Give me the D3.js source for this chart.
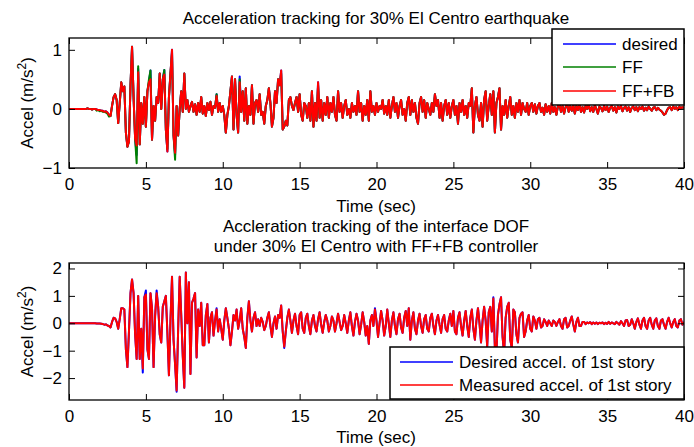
<!DOCTYPE html>
<html>
<head>
<meta charset="utf-8">
<script src="https://d3js.org/d3.v7.min.js"></script>
<style>
  body { margin: 0; background: #fff; }
  svg text { font-family: "Liberation Sans", Arial, Helvetica, sans-serif; fill: #000; }
</style>
</head>
<body>
<div id="chart"></div>
<script>
// samples every 0.1 s, 0 .. 40 s
const sampleStep = 0.1;
const timeTicks = [0, 5, 10, 15, 20, 25, 30, 35, 40];
const topTicks = [-1, 0, 1];
const bottomTicks = [-2, -1, 0, 1, 2];

const topTitle = "Acceleration tracking for 30% El Centro earthquake";
const bottomTitle = ["Accleration tracking of the interface DOF", "under 30% El Centro with FF+FB controller"];
const topNames = ["desired", "FF", "FF+FB"];
const bottomNames = ["Desired accel. of 1st story", "Measured accel. of 1st story"];

// top panel, desired acceleration (m/s^2)
const topDesired = [
  0,0,0,0,0,0,0,0,0,0,
  0,0,0.01,0,0,-0.01,0,0,-0.01,-0.02,
  -0.02,-0.03,-0.03,-0.05,-0.04,-0.06,-0.1,-0.12,0.05,0.2,
  0.25,0.15,-0.24,0.1,0.45,0.3,0.38,-0.4,-0.64,-0.55,
  0.4,1.05,0.2,-0.5,-0.78,0.68,-0.6,0.1,-0.25,0.2,
  -0.3,0.3,0.45,0.65,-0.52,0.05,-0.2,0.2,0.1,0.6,
  0,0.5,0.66,-0.35,-0.72,0.2,0.6,1.0,-0.45,-0.78,
  0.05,-0.45,0,0.3,-0.05,0.6,0,0.15,-0.05,0.05,
  0.12,-0.05,0.08,-0.1,0.1,-0.05,0.2,-0.08,0.05,-0.12,
  0.1,-0.02,0.12,-0.1,0.05,0.02,0.25,-0.05,0.1,-0.05,
  0.05,-0.1,-0.4,-0.1,0.05,0.3,0.55,-0.35,0.5,-0.1,
  -0.4,0.55,-0.05,0.3,-0.2,0.35,-0.25,0.05,-0.1,0.4,
  -0.25,0.1,0.15,-0.05,0.25,-0.1,-0.05,-0.25,0.05,0.15,
  0.35,0.1,-0.3,-0.15,0.3,0.1,0.5,0.4,0.65,-0.35,
  -0.3,-0.2,-0.28,0.15,0.2,0.05,-0.02,0.1,0.2,-0.05,
  0.25,-0.1,-0.2,0.1,0.05,-0.15,0.1,-0.2,0.3,-0.3,
  0.1,-0.2,0.45,-0.15,0.15,-0.2,0.1,-0.1,0.2,-0.15,
  0.1,-0.05,0.2,-0.1,-0.2,0.3,-0.05,0.1,-0.15,0.05,
  0.15,-0.1,0,-0.15,0.1,-0.05,0.05,-0.1,0.3,-0.05,
  0.1,-0.2,0.05,-0.1,0.15,-0.2,0.3,-0.05,0.05,-0.1,
  0.1,-0.05,0.05,0,0.15,-0.08,0.05,-0.1,0.15,-0.15,
  0.05,0.2,-0.05,0.1,-0.15,0.05,0.15,-0.1,0,-0.2,
  0.1,0.2,-0.1,0.15,-0.05,0.1,-0.15,-0.25,0.1,0.2,
  -0.05,0.15,-0.15,0.1,0,-0.1,0.1,-0.05,0.25,0.05,
  0.15,-0.15,0.1,-0.2,0.05,0.15,-0.1,0.1,-0.15,0.05,
  0.15,-0.1,0.05,-0.25,0.1,-0.05,0.15,-0.1,0.05,-0.15,
  0.1,0.05,0.35,-0.4,0.05,0.2,-0.1,-0.2,0.1,-0.3,
  0.15,0.3,-0.2,0.05,0.25,-0.1,0.3,-0.4,0.1,0.2,
  0.35,-0.35,0.05,-0.1,0.15,-0.15,0.05,0.2,-0.1,0.05,
  -0.15,0.1,-0.05,0.15,-0.1,0.1,0,-0.05,0.1,-0.1,
  0.05,0.1,-0.05,0.08,-0.08,0.05,0.1,-0.05,0.02,-0.1,
  0.08,-0.05,0.05,-0.08,0.1,-0.05,0.03,-0.1,0.05,0.08,
  -0.05,0.05,-0.08,0.03,0.08,-0.05,0.05,-0.03,0.06,-0.08,
  0.05,-0.02,0.08,-0.05,0.03,-0.06,0.05,0,0.07,-0.04,
  0.03,-0.05,0.06,0,-0.08,0.04,0.02,-0.04,0.05,-0.02,
  0.04,-0.05,0.02,0.05,-0.03,0.03,-0.06,0.04,0,0.05,
  -0.04,0.02,0.04,-0.03,0.03,-0.05,0.02,0.04,-0.02,0.03,
  -0.04,0.03,0,0.04,-0.03,0.02,-0.02,0.04,0,-0.03,
  0.02,0.03,-0.02,0.02,-0.01,-0.03,-0.06,-0.1,-0.08,-0.02,
  0.02,0.03,-0.02,0.04,0,0.03,-0.02,0.04,0.01,0.03,
  0.02
];

// where FF and FF+FB visibly leave the desired trace (time s, value)
const ffTimes  = [1.8, 2.0, 2.2, 2.4, 2.5, 2.6, 4.4, 4.5, 5.2, 6.4, 6.7, 6.9, 11.1, 13.8, 16.2];
const ffValues = [-0.03, -0.04, -0.05, -0.06, -0.08, -0.13, -0.92, 0.72, 0.5, -0.68, 0.95, -0.86, 0.5, 0.6, 0.4];
const fbTimes  = [4.4, 4.5, 5.3, 6.2, 6.9, 9.6, 11.1];
const fbValues = [-0.62, 0.62, 0.5, 0.58, -0.74, 0.22, 0.45];

// bottom panel, desired 1st story acceleration (m/s^2)
const bottomDesired = [
  0,0,0,0,0,0,0,0,0,0,
  0,0,0,0,0,0,0,0,-0.01,-0.01,
  -0.01,-0.02,-0.03,-0.05,-0.04,-0.08,-0.1,-0.15,0.05,0.2,
  0.18,0.05,-0.2,0.15,0.55,0.55,0.5,-0.95,-1.6,-0.3,
  1.1,1.6,1.1,-0.4,-1.3,1.0,-1.3,-0.2,-1.8,0.95,
  1.2,-0.95,-1.3,1.1,0.55,-1.6,0.25,1.2,0.6,-0.4,
  -0.7,0.6,0.8,1.0,-0.35,-1.9,0.1,1.7,-0.6,-1.5,
  -2.5,-0.2,1.7,0.3,-1.2,-2.35,1.85,0,1.5,-1.85,
  0.75,0.9,1.1,-1.25,0.5,-0.1,0.75,-0.8,-0.8,0.3,
  0.7,-0.7,0.2,0.4,-0.45,0.1,0.55,-0.3,0.15,-0.2,
  -0.6,0.1,0.55,0.2,-0.2,-0.8,-0.3,0.3,0.1,0.5,
  -0.2,0.1,0.55,-0.2,-0.5,-0.9,0.2,0.8,0.1,-0.3,
  0.2,0.4,-0.1,0.15,-0.1,0.2,0.05,-0.25,-0.1,0.2,
  0.4,-0.1,-0.5,0,0.25,-0.2,0.3,0.2,0.65,-0.3,
  -0.9,-0.3,0.2,0.5,0.1,-0.35,0.1,0.35,-0.1,-0.4,
  0.3,0.4,-0.2,-0.35,0.2,0.35,-0.1,-0.4,0.1,0.3,
  -0.1,-0.3,0.15,0.4,-0.05,-0.35,0.05,0.3,0.1,-0.3,
  -0.1,0.25,0.1,-0.3,0,0.35,0.05,-0.25,-0.1,0.3,
  0,-0.35,0.1,0.4,-0.1,-0.45,0.05,0.35,0.1,-0.4,
  -0.05,0.4,0.05,-0.45,-0.1,-0.75,0.1,0.3,-0.1,0.55,
  0.1,-0.5,0,0.45,0.1,-0.45,-0.1,0.5,0,-0.5,
  0.1,0.4,-0.1,-0.4,0.15,0.35,-0.15,-0.35,0.2,0.45,
  -0.1,0.55,-0.6,0.1,0.4,-0.2,-0.4,0.1,0.35,-0.1,
  -0.35,0.15,0.3,-0.2,-0.3,0.2,0.35,-0.1,-0.4,0.1,
  0.3,-0.05,-0.35,0.15,0.3,-0.2,-0.3,0.1,0.35,-0.1,
  0.45,-0.3,-0.4,0.2,0.4,-0.1,-0.45,0.1,0.45,-0.1,
  -0.5,0.2,0.5,-0.2,-0.6,0.1,0.55,0,-0.7,0.1,
  0.6,0.1,-0.85,0.4,0.6,-0.3,0.95,-0.9,-1.1,0.3,
  0.7,0.95,-0.5,-1.1,0.2,0.6,0.75,-0.6,-0.9,0.5,
  0.4,-0.4,-0.7,0.2,0.35,0.4,-0.5,-0.3,0.1,0.3,
  -0.2,-0.3,0.25,0.1,-0.2,0.15,0.2,-0.15,-0.1,0.15,
  0.05,-0.1,0.1,0,-0.1,0.1,0.05,-0.1,0.05,0.15,
  -0.1,-0.2,0.15,0.2,-0.15,-0.1,0.1,0.25,-0.05,-0.3,
  0.05,0.2,-0.1,-0.1,0.05,0.05,-0.03,0.03,0,0.04,
  -0.03,0.03,-0.02,0.03,-0.03,0.02,0,0.03,-0.03,0.02,
  -0.02,0.05,-0.02,0.03,0,-0.03,0.05,0,-0.05,0.08,
  0,-0.1,0.1,0.12,-0.1,-0.05,0.15,0,-0.2,0.05,
  0.18,-0.05,-0.2,0.1,0.2,-0.1,-0.2,0.1,0.2,-0.05,
  -0.2,0.1,0.18,-0.1,-0.2,0.1,0.15,-0.05,-0.2,0.05,
  0.2,0,-0.15,0.05,0.15,-0.1,-0.15,0.1,0.15,-0.05,
  0.05
];

// where the measured trace visibly leaves the desired one
const measTimes  = [4.8, 5.0, 5.7, 7.0, 9.6, 14.0, 19.9, 27.6];
const measValues = [-1.65, 1.05, 1.1, -2.45, 0.5, -0.85, 0.5, 0.9];

const colors = { blue: "#0000ff", green: "#008000", red: "#ff0000" };

// build [t, v] series, replacing the read-off samples
const toSeries = (vals, times, over) => {
  const pts = vals.map((v, i) => [+(i * sampleStep).toFixed(1), v]);
  if (times) {
    times.forEach((t, k) => {
      const i = Math.round(t / sampleStep);
      pts[i] = [pts[i][0], over[k]];
    });
  }
  return pts;
};

const width = 694;
const height = 447;

const svg = d3.select("#chart")
  .append("svg")
  .attr("width", width)
  .attr("height", height);

const x = d3.scaleLinear().domain([0, 40]).range([69, 684]);

const drawPanel = (p) => {
  const y = d3.scaleLinear().domain(p.domain).range([p.bottom, p.top]);
  const g = svg.append("g");

  g.append("clipPath").attr("id", p.id)
    .append("rect")
    .attr("x", 69).attr("y", p.top)
    .attr("width", 615).attr("height", p.bottom - p.top);

  // lines
  const line = d3.line().x((d) => x(d[0])).y((d) => y(d[1]));
  p.series.forEach((s) => {
    g.append("path")
      .datum(s.data)
      .attr("clip-path", "url(#" + p.id + ")")
      .attr("fill", "none")
      .attr("stroke", s.color)
      .attr("stroke-width", 2)
      .attr("stroke-linejoin", "round")
      .attr("d", line);
  });

  // axes, ticks pointing in like matlab
  const fmt = (d) => (d < 0 ? "\u2212" + Math.abs(d) : d);
  g.append("g")
    .attr("transform", "translate(0," + p.bottom + ")")
    .call(d3.axisBottom(x).tickValues(timeTicks).tickSizeInner(-6).tickSizeOuter(0).tickPadding(10));
  g.append("g")
    .attr("transform", "translate(0," + p.top + ")")
    .call(d3.axisTop(x).tickValues(timeTicks).tickSizeInner(-6).tickSizeOuter(0).tickFormat(""));
  g.append("g")
    .attr("transform", "translate(69,0)")
    .call(d3.axisLeft(y).tickValues(p.ticks).tickFormat(fmt).tickSizeInner(-6).tickSizeOuter(0).tickPadding(7));
  g.append("g")
    .attr("transform", "translate(684,0)")
    .call(d3.axisRight(y).tickValues(p.ticks).tickFormat("").tickSizeInner(-6).tickSizeOuter(0));

  g.selectAll(".domain").remove();
  g.selectAll(".tick line").attr("stroke", "#000");
  g.selectAll(".tick text").style("font-size", "17px").attr("fill", "#000");

  g.append("rect")
    .attr("x", 69).attr("y", p.top)
    .attr("width", 615).attr("height", p.bottom - p.top)
    .attr("fill", "none").attr("stroke", "#000").attr("stroke-width", 1.3);

  // y label
  const yt = g.append("text")
    .attr("transform", "translate(33," + (p.top + p.bottom) / 2 + ") rotate(-90)")
    .attr("text-anchor", "middle")
    .style("font-size", "17px");
  yt.append("tspan").text("Accel (m/s");
  yt.append("tspan").text("2").style("font-size", "12px").attr("dy", -7);
  yt.append("tspan").text(")").attr("dy", 7);

  // x label
  g.append("text")
    .attr("x", 376).attr("y", p.xLabelY)
    .attr("text-anchor", "middle")
    .style("font-size", "17px")
    .text("Time (sec)");

  // legend
  const lg = p.legend;
  g.append("rect")
    .attr("x", lg.x).attr("y", lg.y)
    .attr("width", lg.w).attr("height", lg.h)
    .attr("fill", "#fff").attr("stroke", "#000").attr("stroke-width", 1.5);
  lg.names.forEach((n, i) => {
    const ly = lg.rows[i];
    g.append("line")
      .attr("x1", lg.lineX).attr("x2", lg.lineX + 53)
      .attr("y1", ly).attr("y2", ly)
      .attr("stroke", lg.colors[i]).attr("stroke-width", 1.3);
    g.append("text")
      .attr("x", lg.lineX + 59).attr("y", ly + 6)
      .style("font-size", "17px")
      .text(n);
  });
};

drawPanel({
  id: "clipTop",
  top: 38, bottom: 168,
  domain: [-1, 1.2],
  ticks: topTicks,
  xLabelY: 212,
  series: [
    { data: toSeries(topDesired), color: colors.blue },
    { data: toSeries(topDesired, ffTimes, ffValues), color: colors.green },
    { data: toSeries(topDesired, fbTimes, fbValues), color: colors.red }
  ],
  legend: { x: 552, y: 29, w: 132, h: 76, lineX: 563, rows: [44, 67, 91],
            names: topNames, colors: [colors.blue, colors.green, colors.red] }
});

drawPanel({
  id: "clipBottom",
  top: 263, bottom: 400,
  domain: [-2.8, 2.2],
  ticks: bottomTicks,
  xLabelY: 443,
  series: [
    { data: toSeries(bottomDesired), color: colors.blue },
    { data: toSeries(bottomDesired, measTimes, measValues), color: colors.red }
  ],
  legend: { x: 390, y: 347, w: 294, h: 52, lineX: 400, rows: [362, 385],
            names: bottomNames, colors: [colors.blue, colors.red] }
});

// titles
svg.append("text")
  .attr("x", 376).attr("y", 24)
  .attr("text-anchor", "middle")
  .style("font-size", "17px")
  .text(topTitle);

bottomTitle.forEach((t, i) => {
  svg.append("text")
    .attr("x", 376).attr("y", 232 + i * 20)
    .attr("text-anchor", "middle")
    .style("font-size", "17px")
    .text(t);
});
</script>
</body>
</html>
